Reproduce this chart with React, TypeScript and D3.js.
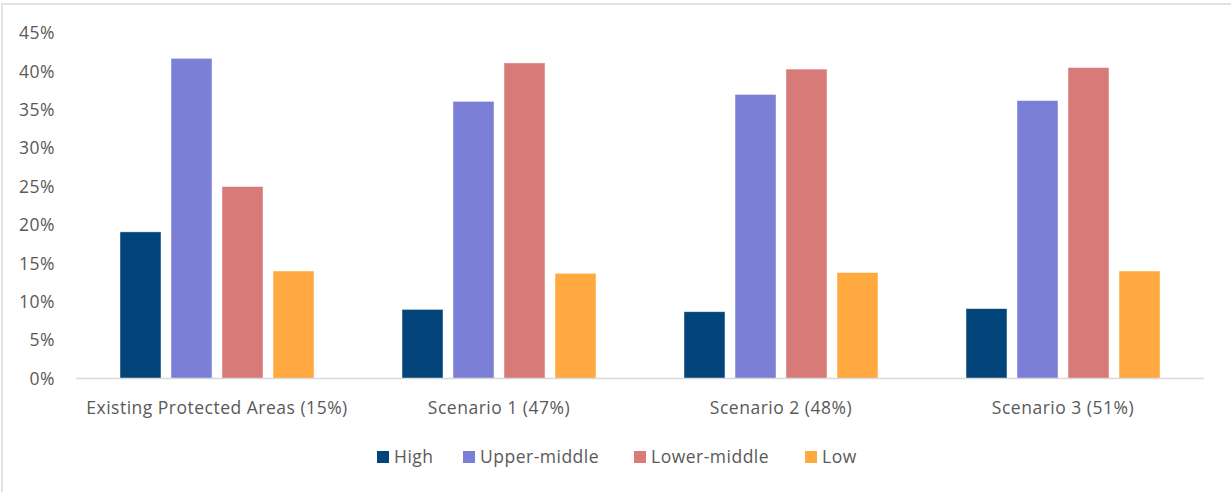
import { useEffect } from "react";
import * as d3 from "d3";

const categories = [
  "Existing Protected Areas (15%)",
  "Scenario 1 (47%)",
  "Scenario 2 (48%)",
  "Scenario 3 (51%)",
];
const seriesNames = ["High", "Upper-middle", "Lower-middle", "Low"];
const high = [0.191, 0.09, 0.087, 0.091];
const upperMiddle = [0.417, 0.361, 0.37, 0.362];
const lowerMiddle = [0.25, 0.411, 0.403, 0.405];
const low = [0.14, 0.137, 0.138, 0.14];
const yTicks = [0, 0.05, 0.1, 0.15, 0.2, 0.25, 0.3, 0.35, 0.4, 0.45];

const COLORS = ["#03457a", "#7b80d6", "#d87a78", "#ffa940"];
const W = 1231;
const H = 492;
const FONT = "'Open Sans', sans-serif";
const TEXT = "#595959";
const FS = 17.5;
const LS = 0.5;

export default function App() {
  useEffect(() => {
    document.body.style.margin = "0";
  }, []);

  const series = [high, upperMiddle, lowerMiddle, low];

  const x0 = d3
    .scaleBand<string>()
    .domain(categories)
    .range([76, 1204])
    .paddingInner(0.312)
    .paddingOuter(0.156);
  const x1 = d3
    .scaleBand<string>()
    .domain(seriesNames)
    .range([0, x0.bandwidth()])
    .paddingInner(0.196)
    .paddingOuter(0);
  const y = d3.scaleLinear().domain([0, 0.45]).range([378.5, 33]);
  const fmt = d3.format(".0%");

  // legend layout: square + label, spaced like the original
  const legendX = [377, 463, 634, 805];

  return (
    <svg width={W} height={H} style={{ display: "block", background: "#fff" }} fontFamily={FONT}>
      <rect x={2} y={4} width={W + 10} height={H + 10} fill="#fff" stroke="#d9d9d9" strokeWidth={1.5} />

      {yTicks.map((t) => (
        <text key={t} x={55} y={y(t)} dy="0.36em" textAnchor="end" fontSize={FS} letterSpacing={LS} fill={TEXT}>
          {fmt(t)}
        </text>
      ))}

      {categories.map((c, ci) => (
        <g key={c} transform={`translate(${x0(c)},0)`}>
          {seriesNames.map((s, si) => (
            <rect
              key={s}
              x={x1(s)}
              y={y(series[si][ci])}
              width={x1.bandwidth()}
              height={y(0) - y(series[si][ci])}
              fill={COLORS[si]}
              stroke="#ffffff"
              strokeOpacity={0.6}
              strokeWidth={0.75}
            />
          ))}
          <text x={x0.bandwidth() / 2} y={414} textAnchor="middle" fontSize={FS} letterSpacing={LS} fill={TEXT}>
            {c}
          </text>
        </g>
      ))}

      <line x1={76} x2={1204} y1={y(0)} y2={y(0)} stroke="#d9d9d9" strokeWidth={1.5} />

      {seriesNames.map((s, i) => (
        <g key={s} transform={`translate(${legendX[i]},451)`}>
          <rect width={12} height={12} fill={COLORS[i]} />
          <text x={17} y={12} fontSize={FS} letterSpacing={LS} fill={TEXT}>
            {s}
          </text>
        </g>
      ))}
    </svg>
  );
}
